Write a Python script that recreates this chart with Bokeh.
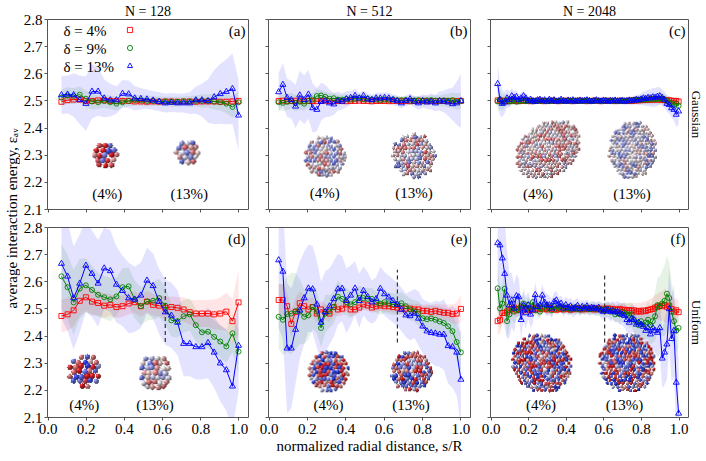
import math
import numpy as np
from bokeh.plotting import figure
from bokeh.layouts import row, column
from bokeh.models import (Range1d, FixedTicker, PrintfTickFormatter, Label, Legend,
                          LegendItem, LinearAxis)
from bokeh.embed import file_html
from bokeh.resources import INLINE

FONT = "Liberation Serif"
FRAME = "#555555"

# ---------------- data ----------------
XTICKS = [0.0, 0.2, 0.4, 0.6, 0.8, 1.0]
YTICKS = [2.1, 2.2, 2.3, 2.4, 2.5, 2.6, 2.7, 2.8]
COL_TITLES = ["N = 128", "N = 512", "N = 2048"]
ROW_LABELS = ["Gaussian", "Uniform"]
PANEL_TAGS = ["(a)", "(b)", "(c)", "(d)", "(e)", "(f)"]
LEGEND_LABELS = ["δ = 4%", "δ = 9%", "δ = 13%"]
X_LABEL = "normalized radial distance, s/R"
Y_LABEL = "average interaction energy, εₐᵥ"

x128 = [0.070, 0.102, 0.134, 0.166, 0.198, 0.230, 0.262, 0.294, 0.326, 0.358,
        0.390, 0.422, 0.454, 0.486, 0.518, 0.550, 0.582, 0.614, 0.646, 0.678,
        0.710, 0.742, 0.774, 0.806, 0.838, 0.870, 0.902, 0.934, 0.966, 0.998]

x512 = [0.050, 0.072, 0.094, 0.116, 0.138, 0.160, 0.183, 0.205, 0.227, 0.249,
        0.271, 0.293, 0.315, 0.337, 0.359, 0.381, 0.403, 0.425, 0.448, 0.470,
        0.492, 0.514, 0.536, 0.558, 0.580, 0.602, 0.624, 0.646, 0.668, 0.690,
        0.713, 0.735, 0.757, 0.779, 0.801, 0.823, 0.845, 0.867, 0.889, 0.911,
        0.933, 0.956, 0.978, 1.000]

x2048 = [0.035, 0.0475, 0.06, 0.0725, 0.085, 0.0975, 0.11, 0.1225, 0.135, 0.1475,
         0.16, 0.1725, 0.185, 0.1975, 0.21, 0.2225, 0.235, 0.2475, 0.26, 0.2725,
         0.285, 0.2975, 0.31, 0.3225, 0.335, 0.3475, 0.36, 0.3725, 0.385, 0.3975,
         0.41, 0.4225, 0.435, 0.4475, 0.46, 0.4725, 0.485, 0.4975, 0.51, 0.5225,
         0.535, 0.5475, 0.56, 0.5725, 0.585, 0.5975, 0.61, 0.6225, 0.635, 0.6475,
         0.66, 0.6725, 0.685, 0.6975, 0.71, 0.7225, 0.735, 0.7475, 0.76, 0.7725,
         0.785, 0.7975, 0.81, 0.8225, 0.835, 0.8475, 0.86, 0.8725, 0.885, 0.8975,
         0.91, 0.9225, 0.935, 0.9475, 0.96, 0.9725, 0.985, 0.9975]

# (a) N=128 Gaussian
a_red = [2.497, 2.503, 2.505, 2.505, 2.500, 2.500, 2.502, 2.502, 2.500, 2.499,
         2.500, 2.500, 2.498, 2.498, 2.497, 2.498, 2.497, 2.498, 2.498, 2.497,
         2.498, 2.498, 2.497, 2.498, 2.498, 2.498, 2.497, 2.497, 2.498, 2.500]
a_red_sd = [0.014, 0.013, 0.013, 0.012, 0.012, 0.012, 0.011, 0.011, 0.011, 0.011,
            0.011, 0.010, 0.010, 0.010, 0.010, 0.010, 0.010, 0.010, 0.010, 0.010,
            0.010, 0.010, 0.011, 0.011, 0.011, 0.012, 0.012, 0.013, 0.013, 0.014]
a_green = [2.512, 2.520, 2.518, 2.523, 2.508, 2.498, 2.495, 2.500, 2.495, 2.490,
           2.495, 2.500, 2.503, 2.502, 2.500, 2.500, 2.498, 2.498, 2.497, 2.497,
           2.498, 2.498, 2.500, 2.500, 2.500, 2.498, 2.495, 2.490, 2.478, 2.495]
a_green_sd = [0.030, 0.030, 0.030, 0.030, 0.030, 0.030, 0.025, 0.025, 0.025, 0.025,
              0.020, 0.020, 0.020, 0.020, 0.020, 0.018, 0.018, 0.018, 0.018, 0.018,
              0.018, 0.020, 0.020, 0.025, 0.025, 0.030, 0.030, 0.035, 0.040, 0.040]
a_blue = [2.522, 2.524, 2.522, 2.504, 2.490, 2.535, 2.535, 2.510, 2.503, 2.503,
          2.527, 2.525, 2.510, 2.508, 2.506, 2.502, 2.497, 2.492, 2.494, 2.492,
          2.492, 2.492, 2.503, 2.503, 2.500, 2.514, 2.526, 2.534, 2.545, 2.447]
a_blue_sd = [0.070, 0.070, 0.080, 0.090, 0.100, 0.100, 0.090, 0.070, 0.060, 0.050,
             0.050, 0.050, 0.045, 0.040, 0.035, 0.035, 0.035, 0.035, 0.035, 0.035,
             0.035, 0.040, 0.050, 0.060, 0.080, 0.100, 0.110, 0.120, 0.130, 0.130]

# (b) N=512 Gaussian
b_red = [2.500, 2.501, 2.499, 2.500, 2.501, 2.500, 2.499, 2.500, 2.500, 2.499,
         2.500, 2.501, 2.500, 2.499, 2.500, 2.500, 2.499, 2.500, 2.500, 2.501,
         2.500, 2.500, 2.499, 2.500, 2.500, 2.500, 2.499, 2.500, 2.500, 2.500,
         2.500, 2.499, 2.500, 2.500, 2.500, 2.500, 2.499, 2.500, 2.500, 2.500,
         2.500, 2.499, 2.500, 2.500]
b_red_sd = [0.010, 0.009, 0.009, 0.009, 0.008, 0.008, 0.008, 0.008, 0.008, 0.008,
            0.008, 0.008, 0.008, 0.008, 0.007, 0.007, 0.007, 0.007, 0.007, 0.007,
            0.007, 0.007, 0.007, 0.007, 0.007, 0.007, 0.007, 0.007, 0.007, 0.007,
            0.007, 0.007, 0.007, 0.007, 0.008, 0.008, 0.008, 0.008, 0.008, 0.008,
            0.009, 0.009, 0.010, 0.010]
b_green = [2.495, 2.493, 2.497, 2.500, 2.492, 2.497, 2.490, 2.500, 2.505, 2.518,
           2.520, 2.515, 2.508, 2.510, 2.505, 2.505, 2.507, 2.505, 2.508, 2.510,
           2.506, 2.508, 2.505, 2.505, 2.503, 2.505, 2.504, 2.505, 2.502, 2.503,
           2.503, 2.501, 2.502, 2.503, 2.500, 2.502, 2.503, 2.501, 2.500, 2.502,
           2.501, 2.503, 2.498, 2.500]
b_green_sd = [0.030, 0.030, 0.030, 0.030, 0.030, 0.030, 0.025, 0.025, 0.025, 0.025,
              0.020, 0.020, 0.020, 0.020, 0.018, 0.018, 0.018, 0.015, 0.015, 0.015,
              0.015, 0.015, 0.015, 0.015, 0.015, 0.015, 0.015, 0.015, 0.015, 0.015,
              0.015, 0.015, 0.015, 0.015, 0.018, 0.018, 0.018, 0.020, 0.020, 0.022,
              0.025, 0.028, 0.030, 0.030]
b_blue = [2.533, 2.560, 2.512, 2.504, 2.480, 2.521, 2.504, 2.524, 2.474, 2.468,
          2.497, 2.500, 2.492, 2.488, 2.500, 2.498, 2.507, 2.512, 2.519, 2.510,
          2.519, 2.507, 2.504, 2.510, 2.510, 2.512, 2.510, 2.504, 2.500, 2.492,
          2.500, 2.507, 2.498, 2.492, 2.500, 2.495, 2.498, 2.492, 2.500, 2.498,
          2.495, 2.489, 2.492, 2.500]
b_blue_sd = [0.070, 0.080, 0.070, 0.070, 0.080, 0.090, 0.090, 0.090, 0.090, 0.080,
             0.070, 0.060, 0.050, 0.040, 0.035, 0.030, 0.030, 0.025, 0.025, 0.020,
             0.020, 0.020, 0.020, 0.020, 0.020, 0.020, 0.020, 0.020, 0.020, 0.020,
             0.020, 0.020, 0.020, 0.025, 0.025, 0.025, 0.030, 0.030, 0.035, 0.040,
             0.050, 0.060, 0.080, 0.100]

# (c) N=2048 Gaussian
c_red = [2.502, 2.500, 2.501, 2.500, 2.499, 2.500, 2.501, 2.500, 2.500, 2.499,
         2.500, 2.501, 2.500, 2.500, 2.499, 2.500, 2.500, 2.501, 2.500, 2.500,
         2.499, 2.500, 2.500, 2.501, 2.500, 2.500, 2.499, 2.500, 2.500, 2.501,
         2.500, 2.500, 2.499, 2.500, 2.500, 2.501, 2.500, 2.500, 2.499, 2.500,
         2.500, 2.501, 2.500, 2.500, 2.499, 2.500, 2.500, 2.501, 2.500, 2.500,
         2.499, 2.500, 2.500, 2.501, 2.500, 2.500, 2.500, 2.501, 2.501, 2.502,
         2.502, 2.503, 2.503, 2.504, 2.504, 2.505, 2.505, 2.505, 2.505, 2.505,
         2.504, 2.503, 2.502, 2.502, 2.501, 2.500, 2.500, 2.498]
c_red_sd = [0.012, 0.011, 0.010, 0.010, 0.009, 0.009, 0.008, 0.008, 0.008, 0.008,
            0.008, 0.008, 0.007, 0.007, 0.007, 0.007, 0.007, 0.007, 0.007, 0.007,
            0.007, 0.007, 0.007, 0.007, 0.007, 0.007, 0.007, 0.007, 0.007, 0.007,
            0.007, 0.007, 0.007, 0.007, 0.007, 0.007, 0.007, 0.007, 0.007, 0.007,
            0.007, 0.007, 0.007, 0.007, 0.007, 0.007, 0.007, 0.007, 0.007, 0.007,
            0.007, 0.007, 0.007, 0.007, 0.007, 0.007, 0.008, 0.008, 0.008, 0.008,
            0.008, 0.008, 0.008, 0.008, 0.008, 0.008, 0.008, 0.008, 0.008, 0.008,
            0.008, 0.009, 0.009, 0.010, 0.010, 0.011, 0.012, 0.012]
c_green = [2.498, 2.505, 2.495, 2.500, 2.503, 2.498, 2.500, 2.502, 2.497, 2.501,
           2.500, 2.502, 2.499, 2.501, 2.500, 2.498, 2.501, 2.500, 2.502, 2.499,
           2.500, 2.501, 2.499, 2.500, 2.502, 2.500, 2.499, 2.501, 2.500, 2.500,
           2.501, 2.499, 2.500, 2.502, 2.500, 2.499, 2.501, 2.500, 2.500, 2.501,
           2.499, 2.500, 2.501, 2.500, 2.499, 2.500, 2.502, 2.500, 2.499, 2.500,
           2.501, 2.500, 2.499, 2.500, 2.501, 2.500, 2.502, 2.501, 2.503, 2.504,
           2.503, 2.505, 2.504, 2.506, 2.505, 2.507, 2.506, 2.508, 2.507, 2.509,
           2.508, 2.505, 2.500, 2.495, 2.490, 2.485, 2.490, 2.482]
c_green_sd = [0.040, 0.035, 0.030, 0.025, 0.020, 0.018, 0.016, 0.015, 0.014, 0.013,
              0.012, 0.011, 0.010, 0.011, 0.010, 0.010, 0.011, 0.010, 0.010, 0.010,
              0.010, 0.011, 0.010, 0.010, 0.011, 0.010, 0.010, 0.011, 0.010, 0.010,
              0.010, 0.011, 0.010, 0.010, 0.011, 0.010, 0.010, 0.011, 0.010, 0.010,
              0.010, 0.011, 0.010, 0.010, 0.011, 0.010, 0.010, 0.011, 0.010, 0.010,
              0.010, 0.010, 0.011, 0.011, 0.012, 0.012, 0.013, 0.013, 0.014, 0.015,
              0.015, 0.016, 0.017, 0.018, 0.018, 0.019, 0.020, 0.020, 0.020, 0.020,
              0.020, 0.020, 0.020, 0.022, 0.024, 0.025, 0.026, 0.028]
c_blue = [2.563, 2.505, 2.490, 2.495, 2.510, 2.505, 2.518, 2.512, 2.515, 2.505,
          2.510, 2.518, 2.510, 2.500, 2.505, 2.500, 2.497, 2.503, 2.505, 2.500,
          2.503, 2.498, 2.505, 2.500, 2.503, 2.498, 2.500, 2.505, 2.500, 2.498,
          2.502, 2.500, 2.503, 2.498, 2.500, 2.502, 2.499, 2.501, 2.503, 2.500,
          2.498, 2.501, 2.503, 2.500, 2.499, 2.502, 2.500, 2.498, 2.501, 2.500,
          2.502, 2.499, 2.500, 2.501, 2.498, 2.500, 2.502, 2.500, 2.502, 2.505,
          2.503, 2.506, 2.510, 2.508, 2.512, 2.510, 2.514, 2.512, 2.516, 2.518,
          2.512, 2.505, 2.490, 2.486, 2.474, 2.468, 2.450, 2.462]
c_blue_sd = [0.070, 0.060, 0.050, 0.040, 0.035, 0.030, 0.030, 0.025, 0.025, 0.020,
             0.020, 0.020, 0.018, 0.015, 0.015, 0.012, 0.012, 0.012, 0.012, 0.010,
             0.010, 0.011, 0.010, 0.010, 0.011, 0.010, 0.010, 0.011, 0.010, 0.010,
             0.010, 0.011, 0.010, 0.010, 0.011, 0.010, 0.010, 0.011, 0.010, 0.010,
             0.010, 0.011, 0.010, 0.010, 0.011, 0.010, 0.010, 0.011, 0.010, 0.010,
             0.011, 0.012, 0.012, 0.013, 0.013, 0.014, 0.015, 0.015, 0.016, 0.018,
             0.020, 0.022, 0.025, 0.028, 0.030, 0.032, 0.035, 0.035, 0.035, 0.032,
             0.030, 0.030, 0.030, 0.032, 0.035, 0.040, 0.045, 0.050]

# (d) N=128 Uniform
d_red = [2.474, 2.480, 2.495, 2.530, 2.543, 2.527, 2.522, 2.512, 2.515, 2.507,
         2.510, 2.520, 2.525, 2.510, 2.527, 2.515, 2.512, 2.504, 2.507, 2.504,
         2.498, 2.488, 2.483, 2.483, 2.483, 2.480, 2.483, 2.490, 2.455, 2.524]
d_red_sd = [0.060, 0.060, 0.060, 0.055, 0.050, 0.050, 0.045, 0.045, 0.040, 0.040,
            0.040, 0.040, 0.040, 0.040, 0.040, 0.040, 0.040, 0.040, 0.040, 0.040,
            0.045, 0.045, 0.050, 0.050, 0.050, 0.055, 0.060, 0.070, 0.080, 0.120]
d_green = [2.620, 2.580, 2.524, 2.575, 2.587, 2.570, 2.552, 2.543, 2.535, 2.546,
           2.580, 2.583, 2.535, 2.510, 2.527, 2.530, 2.540, 2.512, 2.458, 2.455,
           2.473, 2.480, 2.440, 2.414, 2.416, 2.397, 2.380, 2.362, 2.410, 2.343]
d_green_sd = [0.120, 0.120, 0.120, 0.110, 0.100, 0.090, 0.080, 0.080, 0.080, 0.070,
              0.070, 0.070, 0.070, 0.070, 0.070, 0.070, 0.070, 0.070, 0.060, 0.060,
              0.060, 0.060, 0.060, 0.060, 0.060, 0.060, 0.060, 0.060, 0.070, 0.080]
d_blue = [2.667, 2.620, 2.540, 2.594, 2.660, 2.630, 2.594, 2.650, 2.640, 2.590,
          2.567, 2.540, 2.535, 2.550, 2.605, 2.585, 2.527, 2.488, 2.476, 2.450,
          2.372, 2.372, 2.360, 2.360, 2.375, 2.340, 2.300, 2.275, 2.215, 2.365]
d_blue_sd = [0.200, 0.200, 0.190, 0.180, 0.170, 0.160, 0.160, 0.150, 0.150, 0.140,
             0.130, 0.130, 0.120, 0.120, 0.120, 0.120, 0.120, 0.120, 0.120, 0.120,
             0.120, 0.120, 0.120, 0.120, 0.130, 0.130, 0.140, 0.150, 0.160, 0.170]

# (e) N=512 Uniform
e_red = [2.533, 2.533, 2.510, 2.445, 2.489, 2.521, 2.510, 2.498, 2.507, 2.483,
         2.498, 2.489, 2.483, 2.507, 2.498, 2.501, 2.517, 2.498, 2.498, 2.505,
         2.517, 2.513, 2.505, 2.510, 2.513, 2.510, 2.510, 2.507, 2.505, 2.501,
         2.501, 2.501, 2.498, 2.498, 2.493, 2.493, 2.489, 2.493, 2.489, 2.486,
         2.486, 2.481, 2.483, 2.500]
e_red_sd = [0.060, 0.060, 0.050, 0.050, 0.050, 0.045, 0.040, 0.040, 0.035, 0.035,
            0.030, 0.030, 0.030, 0.030, 0.025, 0.025, 0.025, 0.025, 0.020, 0.020,
            0.020, 0.020, 0.020, 0.020, 0.020, 0.020, 0.020, 0.020, 0.020, 0.020,
            0.020, 0.020, 0.020, 0.022, 0.022, 0.025, 0.025, 0.025, 0.028, 0.030,
            0.030, 0.035, 0.040, 0.050]
e_green = [2.471, 2.460, 2.481, 2.483, 2.492, 2.490, 2.471, 2.477, 2.507, 2.490,
           2.430, 2.483, 2.490, 2.507, 2.545, 2.537, 2.525, 2.517, 2.525, 2.540,
           2.540, 2.537, 2.537, 2.525, 2.519, 2.525, 2.521, 2.517, 2.517, 2.521,
           2.510, 2.498, 2.492, 2.483, 2.465, 2.462, 2.465, 2.460, 2.454, 2.448,
           2.436, 2.418, 2.378, 2.340]
e_green_sd = [0.120, 0.130, 0.140, 0.150, 0.140, 0.120, 0.100, 0.090, 0.080, 0.080,
              0.070, 0.070, 0.060, 0.060, 0.060, 0.050, 0.050, 0.050, 0.045, 0.045,
              0.040, 0.040, 0.040, 0.040, 0.040, 0.040, 0.040, 0.040, 0.040, 0.040,
              0.040, 0.040, 0.040, 0.045, 0.045, 0.050, 0.050, 0.050, 0.055, 0.055,
              0.060, 0.060, 0.065, 0.070]
e_blue = [2.680, 2.638, 2.355, 2.355, 2.424, 2.495, 2.540, 2.576, 2.573, 2.517,
          2.450, 2.489, 2.510, 2.537, 2.573, 2.575, 2.530, 2.550, 2.576, 2.530,
          2.567, 2.545, 2.525, 2.537, 2.575, 2.555, 2.543, 2.530, 2.517, 2.498,
          2.477, 2.474, 2.483, 2.465, 2.436, 2.418, 2.412, 2.410, 2.406, 2.406,
          2.364, 2.360, 2.340, 2.240]
e_blue_sd = [0.250, 0.250, 0.240, 0.220, 0.200, 0.180, 0.170, 0.160, 0.160, 0.160,
             0.150, 0.150, 0.140, 0.140, 0.130, 0.120, 0.120, 0.110, 0.100, 0.100,
             0.090, 0.090, 0.080, 0.080, 0.080, 0.080, 0.080, 0.080, 0.080, 0.080,
             0.080, 0.090, 0.090, 0.100, 0.100, 0.110, 0.110, 0.120, 0.120, 0.130,
             0.140, 0.150, 0.160, 0.170]

# (f) N=2048 Uniform
f_red = [2.455, 2.460, 2.485, 2.485, 2.490, 2.495, 2.500, 2.505, 2.495, 2.500,
         2.505, 2.495, 2.500, 2.503, 2.497, 2.502, 2.498, 2.504, 2.499, 2.501,
         2.502, 2.498, 2.503, 2.499, 2.501, 2.497, 2.502, 2.500, 2.498, 2.503,
         2.500, 2.497, 2.502, 2.499, 2.503, 2.500, 2.498, 2.501, 2.499, 2.502,
         2.500, 2.498, 2.502, 2.499, 2.501, 2.497, 2.500, 2.502, 2.498, 2.500,
         2.498, 2.496, 2.500, 2.495, 2.497, 2.494, 2.496, 2.492, 2.495, 2.490,
         2.493, 2.490, 2.494, 2.492, 2.496, 2.498, 2.500, 2.505, 2.508, 2.512,
         2.510, 2.515, 2.508, 2.512, 2.500, 2.490, 2.495, 2.488]
f_red_sd = [0.050, 0.050, 0.045, 0.040, 0.035, 0.030, 0.030, 0.028, 0.026, 0.025,
            0.024, 0.023, 0.022, 0.021, 0.020, 0.020, 0.019, 0.019, 0.018, 0.018,
            0.018, 0.017, 0.017, 0.017, 0.016, 0.016, 0.016, 0.016, 0.016, 0.016,
            0.016, 0.016, 0.016, 0.016, 0.016, 0.016, 0.016, 0.016, 0.017, 0.017,
            0.017, 0.017, 0.017, 0.018, 0.018, 0.018, 0.019, 0.019, 0.020, 0.020,
            0.021, 0.022, 0.023, 0.024, 0.025, 0.026, 0.027, 0.028, 0.029, 0.030,
            0.031, 0.032, 0.034, 0.036, 0.038, 0.040, 0.042, 0.045, 0.048, 0.050,
            0.055, 0.060, 0.060, 0.055, 0.050, 0.045, 0.045, 0.040]
f_green = [2.576, 2.502, 2.520, 2.574, 2.455, 2.480, 2.510, 2.490, 2.500, 2.495,
           2.510, 2.520, 2.500, 2.515, 2.500, 2.525, 2.495, 2.510, 2.490, 2.505,
           2.515, 2.500, 2.508, 2.495, 2.510, 2.500, 2.505, 2.510, 2.500, 2.505,
           2.502, 2.498, 2.505, 2.500, 2.503, 2.497, 2.502, 2.500, 2.504, 2.499,
           2.501, 2.503, 2.498, 2.500, 2.497, 2.498, 2.495, 2.500, 2.490, 2.495,
           2.480, 2.485, 2.480, 2.490, 2.485, 2.480, 2.475, 2.480, 2.460, 2.450,
           2.440, 2.455, 2.443, 2.450, 2.460, 2.440, 2.455, 2.473, 2.514, 2.510,
           2.520, 2.530, 2.556, 2.540, 2.490, 2.455, 2.420, 2.430]
f_green_sd = [0.080, 0.080, 0.070, 0.070, 0.060, 0.050, 0.050, 0.045, 0.040, 0.040,
              0.035, 0.035, 0.030, 0.030, 0.030, 0.030, 0.028, 0.028, 0.025, 0.025,
              0.024, 0.024, 0.023, 0.023, 0.022, 0.022, 0.022, 0.022, 0.021, 0.021,
              0.021, 0.021, 0.021, 0.021, 0.021, 0.021, 0.021, 0.022, 0.022, 0.022,
              0.022, 0.023, 0.023, 0.024, 0.025, 0.026, 0.027, 0.028, 0.029, 0.030,
              0.030, 0.030, 0.035, 0.035, 0.040, 0.040, 0.045, 0.045, 0.050, 0.050,
              0.055, 0.055, 0.060, 0.060, 0.070, 0.070, 0.080, 0.090, 0.100, 0.110,
              0.120, 0.130, 0.140, 0.130, 0.110, 0.090, 0.080, 0.070]
f_blue = [2.743, 2.735, 2.687, 2.630, 2.550, 2.514, 2.532, 2.502, 2.548, 2.544,
          2.460, 2.514, 2.485, 2.514, 2.480, 2.496, 2.552, 2.508, 2.514, 2.550,
          2.524, 2.514, 2.514, 2.502, 2.526, 2.532, 2.514, 2.520, 2.502, 2.515,
          2.505, 2.510, 2.500, 2.505, 2.512, 2.500, 2.508, 2.503, 2.510, 2.500,
          2.505, 2.503, 2.500, 2.505, 2.495, 2.490, 2.498, 2.495, 2.490, 2.493,
          2.488, 2.490, 2.483, 2.480, 2.475, 2.460, 2.450, 2.465, 2.460, 2.443,
          2.450, 2.443, 2.435, 2.420, 2.430, 2.407, 2.430, 2.420, 2.413, 2.430,
          2.318, 2.340, 2.370, 2.500, 2.390, 2.420, 2.229, 2.115]
f_blue_sd = [0.250, 0.250, 0.220, 0.200, 0.160, 0.120, 0.100, 0.090, 0.080, 0.070,
             0.070, 0.060, 0.060, 0.050, 0.050, 0.050, 0.045, 0.045, 0.040, 0.040,
             0.040, 0.040, 0.035, 0.035, 0.035, 0.035, 0.030, 0.030, 0.030, 0.030,
             0.030, 0.030, 0.030, 0.030, 0.030, 0.025, 0.025, 0.025, 0.025, 0.025,
             0.025, 0.025, 0.025, 0.025, 0.030, 0.030, 0.030, 0.030, 0.035, 0.035,
             0.035, 0.040, 0.040, 0.040, 0.045, 0.045, 0.050, 0.050, 0.050, 0.055,
             0.055, 0.060, 0.060, 0.065, 0.070, 0.070, 0.080, 0.080, 0.090, 0.100,
             0.110, 0.120, 0.130, 0.150, 0.160, 0.170, 0.180, 0.200]

SERIES = {
    "a": (x128, [(a_red, a_red_sd), (a_green, a_green_sd), (a_blue, a_blue_sd)]),
    "b": (x512, [(b_red, b_red_sd), (b_green, b_green_sd), (b_blue, b_blue_sd)]),
    "c": (x2048, [(c_red, c_red_sd), (c_green, c_green_sd), (c_blue, c_blue_sd)]),
    "d": (x128, [(d_red, d_red_sd), (d_green, d_green_sd), (d_blue, d_blue_sd)]),
    "e": (x512, [(e_red, e_red_sd), (e_green, e_green_sd), (e_blue, e_blue_sd)]),
    "f": (x2048, [(f_red, f_red_sd), (f_green, f_green_sd), (f_blue, f_blue_sd)]),
}

# dashed markers (x, y from, y to)
DASH = {"d": ([0.614], [2.378], [2.617]),
        "e": ([0.669], [2.376], [2.644]),
        "f": ([0.604], [2.376], [2.632])}

INSET_TEXT = ["(4%)", "(13%)"]

# ---------------- style / layout ----------------
COLORS = ["#ff0000", "#008000", "#0000ff"]
MARKERS = ["square", "circle", "triangle"]
MSIZE = [5, 5, 6]
BAND_ALPHA = [0.10, 0.10, 0.11]
XMIN, XMAX = -0.003, 1.05
YMIN, YMAX = 2.1, 2.8
FRAME_W = [201, 202, 201]
FRAME_H = [190, 190]
BORDER_L = [27, 10, 10]
BORDER_R = [10, 10, 15]
BORDER_T = [19, 9]
BORDER_B = [9, 44]
LEFT_W = 20
TOTAL_H = sum(BORDER_T) + sum(FRAME_H) + sum(BORDER_B)
FS = "15px"

# inset pictures: (cx, cy, A px, B px, tilt deg, ball px, mode, seed) and label positions
INSETS = {
    "a": [(0.30, 2.30, 15, 15, 0, 6.0, "satred", 1), (0.73, 2.31, 14, 14, 0, 6.0, "pale", 2)],
    "b": [(0.29, 2.295, 22, 22, 0, 4.6, "pale", 3), (0.755, 2.30, 23, 24, 0, 4.6, "pale", 4)],
    "c": [(0.30, 2.32, 36, 27, -35, 4.2, "palered", 5), (0.75, 2.32, 25, 30, 10, 4.2, "paleblue", 6)],
    "d": [(0.19, 2.27, 18.5, 18.5, 0, 6.0, "sat", 7), (0.56, 2.265, 18.5, 18.5, 0, 6.0, "pale", 8)],
    "e": [(0.31, 2.27, 21, 22, 0, 4.6, "sat", 9), (0.74, 2.27, 22, 22, 0, 4.6, "sat", 10)],
    "f": [(0.266, 2.30, 32, 30, 30, 4.2, "sat", 11), (0.72, 2.30, 29, 31, -20, 4.2, "sat", 12)],
}
INSET_LABEL_POS = {
    "a": [(0.31, 2.157), (0.74, 2.157)],
    "b": [(0.29, 2.16), (0.755, 2.16)],
    "c": [(0.25, 2.157), (0.75, 2.157)],
    "d": [(0.19, 2.146), (0.56, 2.146)],
    "e": [(0.31, 2.146), (0.74, 2.146)],
    "f": [(0.266, 2.146), (0.71, 2.146)],
}

WHITE = np.array([0.97, 0.96, 0.97])
RED = np.array([0.90, 0.10, 0.12])
BLUE = np.array([0.15, 0.22, 0.95])


def hash01(a, b, c):
    v = math.sin(a * 12.9898 + b * 78.233 + c * 37.719) * 43758.5453
    return v - math.floor(v)


def tone(mode, h):
    if mode == "sat":
        t = 2 * h - 1
        return math.copysign(abs(t) ** 0.45, t)
    if mode == "satred":
        t = 2 * h - 0.75
        t = max(-1.0, min(1.0, t))
        return math.copysign(abs(t) ** 0.5, t)
    if mode == "pale":
        return 0.65 * (2 * h - 1)
    if mode == "palered":
        return -0.3 + 0.9 * h
    return 0.3 - 0.9 * h


def cluster_rgba(A, B, tilt, ball, mode, seed, sc=3):
    th = math.radians(tilt)
    ct, st = math.cos(th), math.sin(th)
    hw = math.hypot(A * ct, B * st)
    hh = math.hypot(A * st, B * ct)
    W = int(math.ceil(2 * hw * sc))
    H = int(math.ceil(2 * hh * sc))
    cx, cy = W / 2.0, H / 2.0
    r = ball * sc / 2.0
    step = 2 * r * 0.92
    rgb = np.ones((H, W, 3))
    alpha = np.zeros((H, W))
    depth = np.full((H, W), -1e9)
    Ae, Be = A * sc - 0.5 * r, B * sc - 0.5 * r
    n = int(max(W, H) / step) + 2
    for i in range(-n, n + 1):
        for j in range(-n, n + 1):
            bx = cx + (j + 0.5 * (i & 1)) * step + (hash01(i, j, seed + 1) - 0.5) * 0.6 * r
            by = cy + i * step * 0.866 + (hash01(i, j, seed + 2) - 0.5) * 0.6 * r
            dx, dy = bx - cx, by - cy
            u = (dx * ct + dy * st) / Ae
            v = (-dx * st + dy * ct) / Be
            q = u * u + v * v
            if q > 1:
                continue
            zc = math.sqrt(1 - q)
            rr = r * (0.8 + 0.2 * zc)
            x0 = max(int(bx - rr) - 1, 0)
            x1 = min(int(bx + rr) + 2, W)
            y0 = max(int(by - rr) - 1, 0)
            y1 = min(int(by + rr) + 2, H)
            if x0 >= x1 or y0 >= y1:
                continue
            ys, xs = np.mgrid[y0:y1, x0:x1]
            nx = (xs - bx) / rr
            ny = (ys - by) / rr
            d2 = nx * nx + ny * ny
            m = d2 < 1
            nz = np.sqrt(np.clip(1 - d2, 0, 1))
            z = zc + nz * rr / Ae
            sub_depth = depth[y0:y1, x0:x1]
            upd = m & (z > sub_depth)
            if not upd.any():
                continue
            t = tone(mode, hash01(i, j, seed))
            base = WHITE + ((RED if t >= 0 else BLUE) - WHITE) * abs(t)
            lam = np.clip(-0.45 * nx - 0.5 * ny + 0.74 * nz, 0, 1)
            shade = (0.5 + 0.5 * lam) * (0.82 + 0.18 * zc)
            spec = 0.3 * lam ** 14
            col = base[None, None, :] * shade[..., None] + spec[..., None]
            sub_rgb = rgb[y0:y1, x0:x1]
            sub_rgb[upd] = col[upd]
            sub_depth[upd] = z[upd]
            sub_a = alpha[y0:y1, x0:x1]
            sub_a[upd] = 1.0
    img = np.zeros((H, W), dtype=np.uint32)
    view = img.view(dtype=np.uint8).reshape((H, W, 4))
    view[..., 0:3] = (np.clip(rgb, 0, 1) * 255).astype(np.uint8)
    view[..., 3] = (alpha * 255).astype(np.uint8)
    return np.flipud(img).copy(), W / sc, H / sc


def style_axes(p, col, rowi):
    p.xgrid.visible = False
    p.ygrid.visible = False
    p.outline_line_color = FRAME
    p.outline_line_width = 1
    p.background_fill_color = "white"
    p.border_fill_color = "white"
    p.xaxis.ticker = FixedTicker(ticks=XTICKS)
    p.yaxis.ticker = FixedTicker(ticks=YTICKS)
    p.xaxis.formatter = PrintfTickFormatter(format="%.1f")
    p.yaxis.formatter = PrintfTickFormatter(format="%.1f")
    for ax in (p.xaxis[0], p.yaxis[0]):
        ax.axis_line_color = None
        ax.major_tick_in = 0
        ax.major_tick_out = 3
        ax.minor_tick_line_color = None
        ax.major_tick_line_color = FRAME
        ax.major_label_text_font = FONT
        ax.major_label_text_font_size = FS
        ax.major_label_text_color = "black"
    p.xaxis.major_label_standoff = 3
    p.yaxis.major_label_standoff = 2
    if col != 0:
        p.yaxis.major_label_text_font_size = "1px"
        p.yaxis.major_label_text_color = None
    if rowi == 0:
        p.xaxis.major_label_text_font_size = "1px"
        p.xaxis.major_label_text_color = None


def lbl(p, **kw):
    base = dict(text_font=FONT, text_font_size=FS, text_color="black")
    base.update(kw)
    p.add_layout(Label(**base))


def build(idx):
    key = "abcdef"[idx]
    col, rowi = idx % 3, idx // 3
    fw, fh = FRAME_W[col], FRAME_H[rowi]
    xu = (XMAX - XMIN) / fw
    yu = (YMAX - YMIN) / fh
    p = figure(width=BORDER_L[col] + fw + BORDER_R[col],
               height=BORDER_T[rowi] + fh + BORDER_B[rowi],
               x_range=Range1d(XMIN, XMAX), y_range=Range1d(YMIN, YMAX),
               output_backend="svg", toolbar_location=None, tools="",
               min_border_left=BORDER_L[col], min_border_right=BORDER_R[col],
               min_border_top=BORDER_T[rowi], min_border_bottom=BORDER_B[rowi])
    style_axes(p, col, rowi)

    if rowi == 0:
        p.title.text = COL_TITLES[col]
        p.title.align = "center"
        p.title.text_font = FONT
        p.title.text_font_size = "14px"
        p.title.text_font_style = "normal"
        p.title.text_color = "black"
        p.title.standoff = 1

    if col == 2:
        rax = LinearAxis(axis_label=ROW_LABELS[rowi], ticker=FixedTicker(ticks=[]),
                         axis_line_color=None, major_tick_line_color=None,
                         minor_tick_line_color=None,
                         major_label_text_font_size="1px", major_label_text_color=None,
                         axis_label_text_font=FONT, axis_label_text_font_size="13px",
                         axis_label_text_font_style="normal", axis_label_text_color="black",
                         axis_label_standoff=0)
        p.add_layout(rax, "right")

    if idx == 4:
        p.xaxis.axis_label = X_LABEL
        p.xaxis.axis_label_text_font = FONT
        p.xaxis.axis_label_text_font_size = FS
        p.xaxis.axis_label_text_font_style = "normal"
        p.xaxis.axis_label_text_color = "black"
        p.xaxis.axis_label_standoff = 1

    xs, series = SERIES[key]
    for k, (ys, sd) in enumerate(series):
        lo = [m - s for m, s in zip(ys, sd)]
        hi = [m + s for m, s in zip(ys, sd)]
        p.varea(x=xs, y1=lo, y2=hi, fill_color=COLORS[k], fill_alpha=BAND_ALPHA[k])

    # inset pictures of the clusters
    for (cx, cy, A, B, tilt, ball, mode, seed) in INSETS[key]:
        img, wpx, hpx = cluster_rgba(A, B, tilt, ball, mode, seed)
        dw, dh = wpx * xu, hpx * yu
        p.image_rgba(image=[img], x=cx - dw / 2, y=cy - dh / 2, dw=dw, dh=dh)
    for txt, (lx, ly) in zip(INSET_TEXT, INSET_LABEL_POS[key]):
        lbl(p, x=lx, y=ly, text=txt, text_align="center", text_baseline="middle")

    if key in DASH:
        dx, dy0, dy1 = DASH[key]
        p.segment(x0=dx, y0=dy0, x1=dx, y1=dy1, line_color="#333333",
                  line_width=1.2, line_dash="4 3")

    marks = []
    for k, (ys, sd) in enumerate(series):
        p.line(xs, ys, line_color=COLORS[k], line_width=1)
        r = p.scatter(xs, ys, marker=MARKERS[k], size=MSIZE[k], line_color=COLORS[k],
                      fill_color=None, line_width=0.9)
        marks.append(r)

    # panel tag
    lbl(p, x=XMAX - 3 * xu, y=YMAX - 11 * yu, text=PANEL_TAGS[idx],
        text_align="right", text_baseline="middle")

    if idx == 0:
        row_px = [11, 29, 47]
        for k, txt in enumerate(LEGEND_LABELS):
            lbl(p, x=XMIN + 16 * xu, y=YMAX - row_px[k] * yu, text=txt,
                text_align="left", text_baseline="middle")
        items = [LegendItem(label=" ", renderers=[marks[k]]) for k in range(3)]
        leg = Legend(items=items, location=(76, fh - 4 - 49),
                     glyph_width=13, glyph_height=13, label_width=0, label_height=13,
                     label_standoff=0, spacing=5, padding=0, margin=0,
                     label_text_font_size="1px", border_line_color=None,
                     background_fill_alpha=0)
        p.add_layout(leg)
    return p


panels = [build(i) for i in range(6)]

# y label: an axis label on a thin strip, centred between the two rows
row1_top = BORDER_T[0]
row2_bottom = BORDER_T[0] + FRAME_H[0] + BORDER_B[0] + BORDER_T[1] + FRAME_H[1]
left_strip = figure(width=LEFT_W, height=TOTAL_H, x_range=Range1d(0, 1),
                    y_range=Range1d(0, 1), output_backend="svg",
                    toolbar_location=None, tools="", x_axis_type=None, y_axis_type=None,
                    min_border_left=LEFT_W - 1, min_border_right=0,
                    min_border_top=row1_top, min_border_bottom=TOTAL_H - row2_bottom)
left_strip.outline_line_color = None
left_strip.xgrid.visible = False
left_strip.ygrid.visible = False
left_strip.background_fill_color = "white"
left_strip.border_fill_color = "white"
yax = LinearAxis(axis_label=Y_LABEL, ticker=FixedTicker(ticks=[]),
                 axis_line_color=None, major_tick_line_color=None,
                 minor_tick_line_color=None,
                 major_label_text_font_size="1px", major_label_text_color=None,
                 axis_label_text_font=FONT, axis_label_text_font_size=FS,
                 axis_label_text_font_style="normal", axis_label_text_color="black",
                 axis_label_standoff=0)
left_strip.add_layout(yax, "left")

grid = column(row(*panels[:3], spacing=0),
              row(*panels[3:], spacing=0), spacing=0)
layout = row(left_strip, grid, spacing=0)

open("out.html", "w").write(file_html(layout, INLINE))
